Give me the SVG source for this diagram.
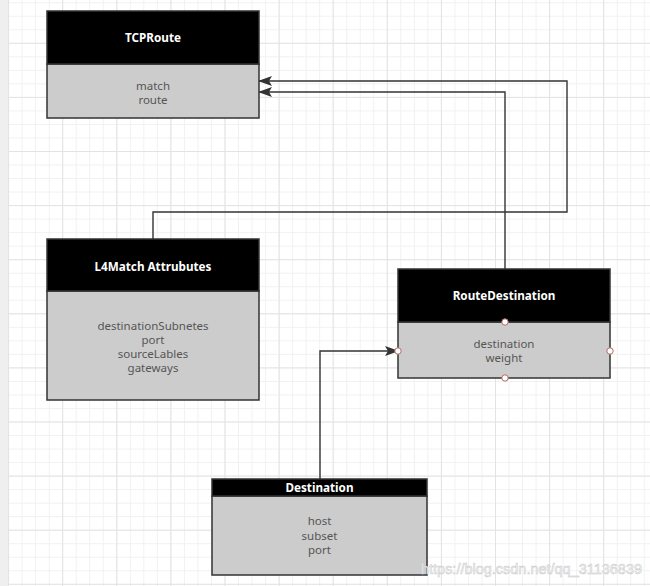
<svg xmlns="http://www.w3.org/2000/svg" width="650" height="586" viewBox="0 0 650 586">
  <defs>
    <pattern id="minor" patternUnits="userSpaceOnUse" x="62.2" y="42.8" width="13.525" height="13.525">
      <rect x="0" y="0" width="13.525" height="1" fill="#f1f1f1"/>
      <rect x="0" y="0" width="1" height="13.525" fill="#f1f1f1"/>
    </pattern>
    <pattern id="major" patternUnits="userSpaceOnUse" x="62.2" y="42.8" width="54.1" height="54.1">
      <rect x="0" y="0" width="54.1" height="1" fill="#e3e3e3"/>
      <rect x="0" y="0" width="1" height="54.1" fill="#e3e3e3"/>
    </pattern>
    <marker id="arrow" viewBox="0 0 14 10" refX="13" refY="5" markerWidth="14" markerHeight="10" markerUnits="userSpaceOnUse" orient="auto">
      <path d="M0,0 L14,5 L0,10 L3,5 Z" fill="#333333"/>
    </marker>
    <style>
      .hdr { fill: #000000; stroke: #333333; stroke-width: 1.5; }
      .body { fill: #cccccc; stroke: #333333; stroke-width: 1.5; }
      .title { font-family: "Noto Sans", "Open Sans", sans-serif; font-weight: bold; font-size: 11.7px; fill: #ffffff; text-anchor: middle; }
      .attr { font-family: "Noto Sans", "Open Sans", sans-serif; font-size: 11.5px; fill: #555555; text-anchor: middle; }
      .conn { fill: none; stroke: #333333; stroke-width: 1.4; }
      .pt { fill: #ffffff; stroke: #b46a66; stroke-width: 1; }
      .wm { font-family: "Liberation Sans", Arial, sans-serif; font-size: 15px; fill: #f6f6f6; stroke: #c8c8c8; stroke-width: 0.5; }
    </style>
  </defs>

  <rect x="0" y="0" width="650" height="586" fill="#ffffff"/>
  <rect x="8" y="0" width="642" height="586" fill="url(#minor)"/>
  <rect x="8" y="0" width="642" height="586" fill="url(#major)"/>
  <rect x="0" y="0" width="8" height="586" fill="#efefef"/>

  <g id="connectors">
    <path class="conn" d="M153,239 V212 H567 V81 H259" marker-end="url(#arrow)"/>
    <path class="conn" d="M505,269 V92 H259" marker-end="url(#arrow)"/>
    <path class="conn" d="M320,479 V351 H398" marker-end="url(#arrow)"/>
  </g>

  <g id="tcproute">
    <rect class="body" x="47" y="64" width="212" height="54"/>
    <rect class="hdr" x="47" y="11" width="212" height="53"/>
    <text class="title" x="153" y="42">TCPRoute</text>
    <text class="attr" x="153" y="90">match</text>
    <text class="attr" x="153" y="104">route</text>
  </g>

  <g id="l4match">
    <rect class="body" x="47" y="291" width="212" height="109"/>
    <rect class="hdr" x="47" y="239" width="212" height="52"/>
    <text class="title" x="153" y="271">L4Match Attrubutes</text>
    <text class="attr" x="153" y="330">destinationSubnetes</text>
    <text class="attr" x="153" y="344">port</text>
    <text class="attr" x="153" y="358">sourceLables</text>
    <text class="attr" x="153" y="372">gateways</text>
  </g>

  <g id="routedestination">
    <rect class="body" x="398" y="322" width="212" height="56"/>
    <rect class="hdr" x="398" y="269" width="212" height="53"/>
    <text class="title" x="504" y="300">RouteDestination</text>
    <text class="attr" x="504" y="348">destination</text>
    <text class="attr" x="504" y="362">weight</text>
    <circle class="pt" cx="505" cy="322" r="3.2"/>
    <circle class="pt" cx="398" cy="351" r="3.2"/>
    <circle class="pt" cx="610" cy="351" r="3.2"/>
    <circle class="pt" cx="505" cy="378" r="3.2"/>
  </g>

  <g id="destination">
    <rect class="body" x="212" y="496" width="215" height="79"/>
    <rect class="hdr" x="212" y="479" width="215" height="17"/>
    <text class="title" x="319.5" y="492">Destination</text>
    <text class="attr" x="319.5" y="525">host</text>
    <text class="attr" x="319.5" y="540">subset</text>
    <text class="attr" x="319.5" y="554">port</text>
  </g>

  <text class="wm" x="421" y="574" textLength="221" lengthAdjust="spacingAndGlyphs">https://blog.csdn.net/qq_31136839</text>
</svg>
